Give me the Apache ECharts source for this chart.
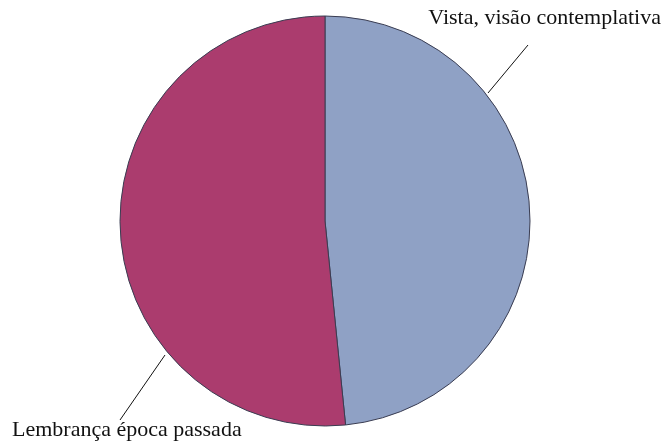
<!DOCTYPE html>
<html>
<head>
<meta charset="utf-8">
<script src="https://cdn.jsdelivr.net/npm/echarts@6/dist/echarts.min.js"></script>
<style>
  html, body { margin: 0; padding: 0; background: #fff; }
  #main { width: 669px; height: 443px; }
</style>
</head>
<body>
<div id="main"></div>
<script>
const categories = ['Vista, visão contemplativa', 'Lembrança época passada'];
const values = [48.4, 51.6];
const colors = ['#8fa1c5', '#ab3c6e'];

// label placement (Excel-style best fit)
const labelPos = [
  { x: 661, y: 18, align: 'right', line: [[488, 93], [528, 45]] },
  { x: 12, y: 430, align: 'left', line: [[165, 355], [120, 420]] }
];

const chart = echarts.init(document.getElementById('main'));
chart.setOption({
  backgroundColor: '#fff',
  animation: false,
  series: [{
    type: 'pie',
    center: [325, 221],
    radius: [0, 205],
    startAngle: 90,
    clockwise: true,
    silent: true,
    data: categories.map((name, i) => ({
      name: name,
      value: values[i],
      itemStyle: { color: colors[i] }
    })),
    itemStyle: { borderColor: '#3a3d52', borderWidth: 1 },
    label: {
      show: true,
      formatter: '{b}',
      fontFamily: 'Liberation Serif',
      fontSize: 22,
      color: '#111',
      width: 400,
      overflow: 'none'
    },
    labelLine: {
      show: true,
      length: 20,
      length2: 0,
      lineStyle: { color: '#111', width: 1 }
    },
    labelLayout: function (params) {
      const p = labelPos[params.dataIndex];
      return {
        x: p.x,
        y: p.y,
        align: p.align,
        verticalAlign: 'middle',
        labelLinePoints: p.line
      };
    }
  }]
});
</script>
</body>
</html>
